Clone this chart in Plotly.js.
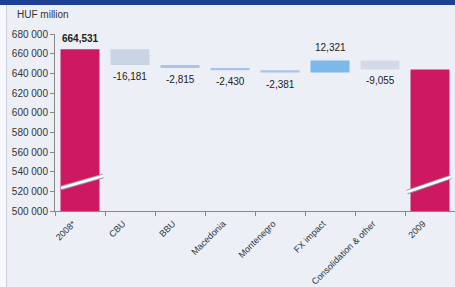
<!DOCTYPE html>
<html>
<head>
<meta charset="utf-8">
<script src="https://cdn.plot.ly/plotly-3.0.1.min.js"></script>
<style>
html,body{margin:0;padding:0;background:#eceff6;}
#chart{width:455px;height:287px;}
</style>
</head>
<body>
<div id="chart"></div>
<script>
// ---- data ----
const categories = ["2008*", "CBU", "BBU", "Macedonia", "Montenegro", "FX impact", "Consolidation & other", "2009"];
const kinds = ["total", "change", "change", "change", "change", "change", "change", "total"];
const values = [664531, -16181, -2815, -2430, -2381, 12321, -9055, 643989];
const valueLabels = ["664,531", "-16,181", "-2,815", "-2,430", "-2,381", "12,321", "-9,055", "643,989"];
const barColors = ["#cf1862", "#c9d4e4", "#a9c4e8", "#a9c4e8", "#a9c4e8", "#7cb8ea", "#d3dae7", "#cf1862"];
const yTickVals = [500000, 520000, 540000, 560000, 580000, 600000, 620000, 640000, 660000, 680000];
const yTickText = ["500 000", "520 000", "540 000", "560 000", "580 000", "600 000", "620 000", "640 000", "660 000", "680 000"];
const unitTitle = "HUF million";

// ---- waterfall bases ----
const bases = [], heights = [];
let running = 0;
for (let i = 0; i < values.length; i++) {
  if (kinds[i] === "total") { bases.push(0); heights.push(values[i]); running = values[i]; }
  else { bases.push(running); heights.push(values[i]); running += values[i]; }
}

const annotations = values.map((v, i) => {
  const top = bases[i] + Math.max(0, heights[i]);
  const bottom = bases[i] + Math.min(0, heights[i]);
  const isTotal = kinds[i] === "total";
  const up = isTotal || v > 0;
  return {
    x: categories[i], y: up ? top : bottom, xref: "x", yref: "y",
    text: isTotal ? "<b>" + valueLabels[i] + "</b>" : valueLabels[i],
    showarrow: false, yanchor: up ? "bottom" : "top",
    yshift: isTotal ? 3 : (up ? 6 : -4),
    font: {family: "Arial, Liberation Sans, sans-serif", size: 10, color: "#222"}
  };
});
annotations.push({
  xref: "paper", yref: "paper", x: -0.1, y: 1.11, xanchor: "left", yanchor: "middle",
  text: unitTitle, showarrow: false,
  font: {family: "Arial, Liberation Sans, sans-serif", size: 10, color: "#333"}
});

function breakMark(x0, y0, x1, y1) {
  return [
    {type: "line", xref: "x", yref: "y", x0: x0, y0: y0, x1: x1, y1: y1, line: {color: "#9a8f99", width: 4.5}},
    {type: "line", xref: "x", yref: "y", x0: x0, y0: y0, x1: x1, y1: y1, line: {color: "#ffffff", width: 2.5}}
  ];
}

const shapes = [
  {type: "rect", xref: "paper", yref: "paper", x0: -0.14, x1: 1.01, y0: 1.164, y1: 1.2, line: {width: 0}, fillcolor: "#1d3f94"},
  {type: "rect", xref: "paper", yref: "paper", x0: -0.14, x1: -0.122, y0: -0.5, y1: 1.164, line: {width: 0}, fillcolor: "#f7f8fb"},
  {type: "line", xref: "paper", yref: "paper", x0: -0.121, x1: -0.121, y0: -0.5, y1: 1.164, line: {width: 1, color: "#c9ccd6"}}
].concat(breakMark(-0.38, 523400, 0.46, 535600), breakMark(6.54, 519300, 7.42, 534600));

const trace = {
  type: "bar",
  x: categories,
  y: heights,
  base: bases,
  width: 0.78,
  marker: {color: barColors, line: {width: 0}},
  hoverinfo: "skip"
};

const layout = {
  width: 455, height: 287,
  margin: {l: 55, r: 0, t: 34, b: 76},
  paper_bgcolor: "#eceff6",
  plot_bgcolor: "#eceff6",
  showlegend: false,
  font: {family: "Arial, Liberation Sans, sans-serif", size: 10, color: "#333"},
  xaxis: {
    type: "category", range: [-0.5, 7.5], tickson: "boundaries",
    ticks: "outside", ticklen: 4, tickcolor: "#888",
    showline: true, linecolor: "#888", linewidth: 1,
    showgrid: false, zeroline: false,
    tickangle: -45, ticklabelshift: -7, ticklabelstandoff: 3,
    tickfont: {family: "Arial, Liberation Sans, sans-serif", size: 9, color: "#333"}
  },
  yaxis: {
    range: [500000, 680000], tickvals: yTickVals, ticktext: yTickText,
    ticks: "outside", ticklen: 4, tickcolor: "#888",
    showline: true, linecolor: "#888", linewidth: 1,
    showgrid: false, zeroline: false,
    tickfont: {family: "Arial, Liberation Sans, sans-serif", size: 10, color: "#333"}
  },
  annotations: annotations,
  shapes: shapes
};

Plotly.newPlot("chart", [trace], layout, {displayModeBar: false, staticPlot: true});
</script>
</body>
</html>
